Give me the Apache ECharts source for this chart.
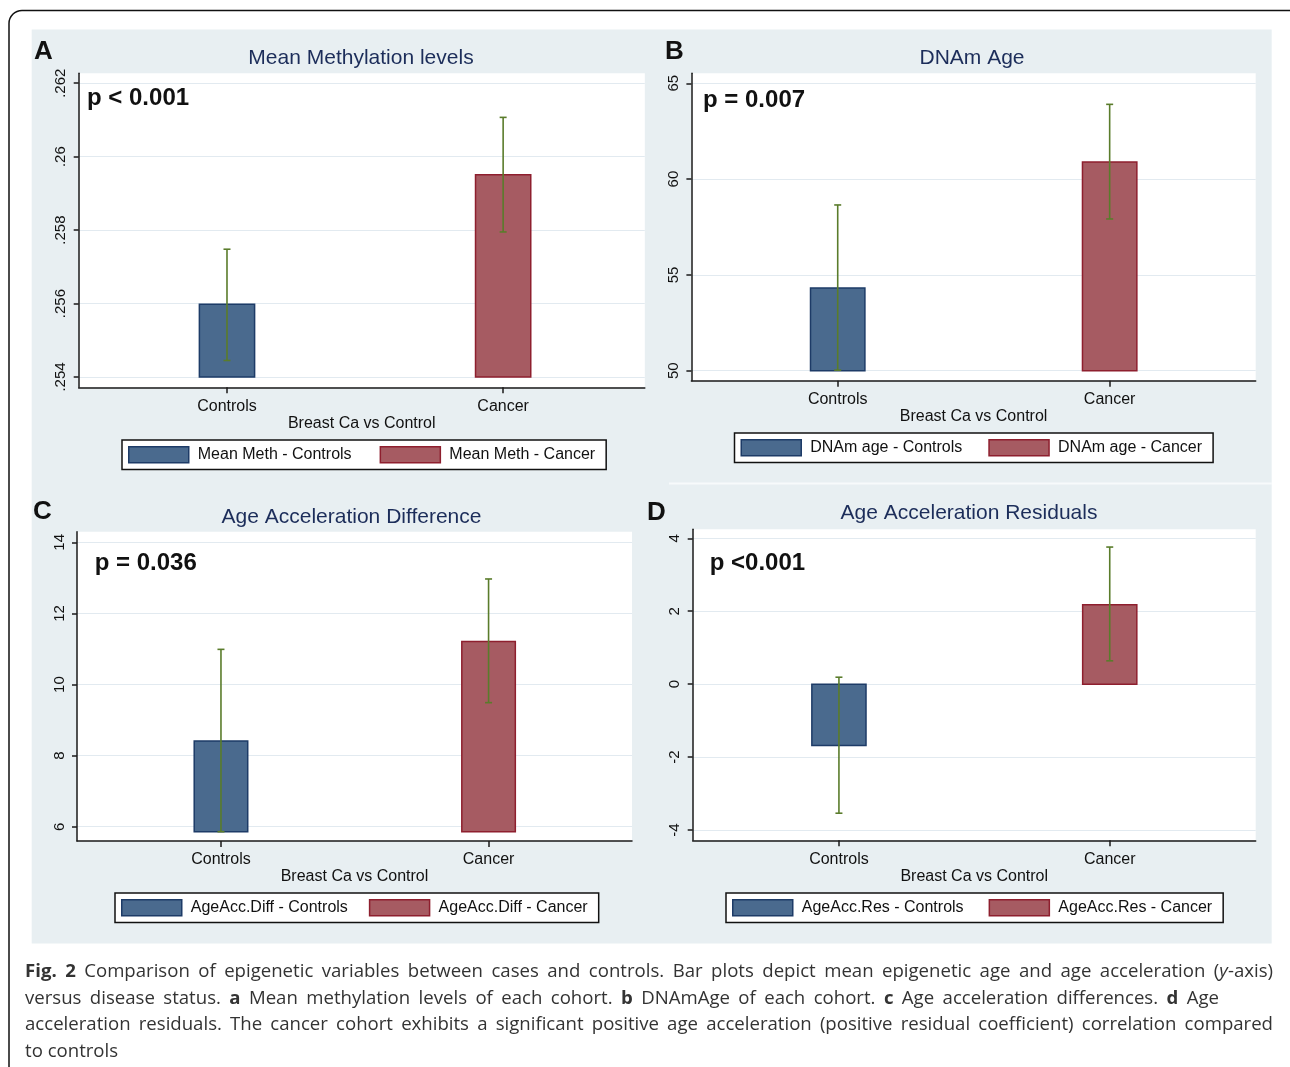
<!DOCTYPE html>
<html>
<head>
<meta charset="utf-8">
<script src="https://cdn.jsdelivr.net/npm/echarts@6/dist/echarts.min.js"></script>
<style>
html, body { margin: 0; padding: 0; background: #fff; }
#chart { position: absolute; left: 0; top: 0; width: 1290px; height: 1067px; }
#caption { position: absolute; left: 25px; top: 957px; width: 1248px; font-family: 'Open Sans', 'Noto Sans', sans-serif; font-size: 18.6px; color: #333; line-height: 26.7px; }
#caption .ln { white-space: nowrap; text-align: justify; text-align-last: justify; }
#caption .l2 { width: 1194px; }
#caption .l4 { text-align: left; text-align-last: left; }
</style>
</head>
<body>
<div id="chart"></div>
<div id="caption">
  <div class="ln"><b>Fig. 2</b> Comparison of epigenetic variables between cases and controls. Bar plots depict mean epigenetic age and age acceleration (<i>y</i>-axis)</div>
  <div class="ln l2">versus disease status. <b>a</b> Mean methylation levels of each cohort. <b>b</b> DNAmAge of each cohort. <b>c</b> Age acceleration differences. <b>d</b> Age</div>
  <div class="ln">acceleration residuals. The cancer cohort exhibits a significant positive age acceleration (positive residual coefficient) correlation compared</div>
  <div class="ln l4">to controls</div>
</div>
<script>
// ---------------- data ----------------
const categories = ['Controls', 'Cancer'];
const xAxisName = 'Breast Ca vs Control';

// A: Mean methylation levels
const methTitle = 'Mean Methylation levels';
const methP = 'p < 0.001';
const methNames = ['Mean Meth - Controls', 'Mean Meth - Cancer'];
const methTicks = [0.254, 0.256, 0.258, 0.26, 0.262];
const methMean = [0.25598, 0.25951];
const methLow = [0.25445, 0.25795];
const methHigh = [0.25748, 0.26107];
const methBase = 0.254;

// B: DNAm Age
const ageTitle = 'DNAm Age';
const ageP = 'p = 0.007';
const ageNames = ['DNAm age - Controls', 'DNAm age - Cancer'];
const ageTicks = [50, 55, 60, 65];
const ageMean = [54.32, 60.89];
const ageLow = [50.03, 57.92];
const ageHigh = [58.65, 63.90];
const ageBase = 50;

// C: Age acceleration difference
const diffTitle = 'Age Acceleration Difference';
const diffP = 'p = 0.036';
const diffNames = ['AgeAcc.Diff - Controls', 'AgeAcc.Diff - Cancer'];
const diffTicks = [6, 8, 10, 12, 14];
const diffMean = [8.41, 11.21];
const diffLow = [5.86, 9.49];
const diffHigh = [10.99, 12.97];
const diffBase = 5.86;

// D: Age acceleration residuals
const resTitle = 'Age Acceleration Residuals';
const resP = 'p <0.001';
const resNames = ['AgeAcc.Res - Controls', 'AgeAcc.Res - Cancer'];
const resTicks = [-4, -2, 0, 2, 4];
const resMean = [-1.685, 2.175];
const resLow = [-3.54, 0.64];
const resHigh = [0.19, 3.76];
const resBase = 0;

// ---------------- styling / layout ----------------
const FONT = "'Liberation Sans', Arial, sans-serif";
const BLUE = '#4a6a8e', BLUE_B = '#1d3b67';
const RED = '#a65b62', RED_B = '#8e1f2e';
const GREEN = '#5a7c2b';
const AXIS = '#1a1a1a';
const TITLE_C = '#1c2d5a';
const BAR_W = 0.2;

const panels = [
  { letter: 'A', title: methTitle, p: methP, names: methNames, ticks: methTicks, mean: methMean, low: methLow, high: methHigh, base: methBase,
    grid: { left: 78.7, top: 73.3, width: 566.1, height: 314 }, xr: [-0.537, 1.513], yr: [0.25372, 0.26227],
    fmt: v => String(+v.toFixed(3)).replace(/^0\./, '.'),
    letterPos: [34, 52], titlePos: [361, 58], pPos: [87, 98], legendPos: [122, 440], gap: 28 },
  { letter: 'B', title: ageTitle, p: ageP, names: ageNames, ticks: ageTicks, mean: ageMean, low: ageLow, high: ageHigh, base: ageBase,
    grid: { left: 691.4, top: 73.3, width: 564.3, height: 307.4 }, xr: [-0.538, 1.537], yr: [49.48, 65.52],
    fmt: v => String(v),
    letterPos: [665, 52], titlePos: [972, 58], pPos: [703, 100], legendPos: [734.5, 433], gap: 26 },
  { letter: 'C', title: diffTitle, p: diffP, names: diffNames, ticks: diffTicks, mean: diffMean, low: diffLow, high: diffHigh, base: diffBase,
    grid: { left: 77, top: 531.7, width: 555, height: 309.3 }, xr: [-0.538, 1.536], yr: [5.598, 14.30],
    fmt: v => String(v),
    letterPos: [33, 512], titlePos: [351.5, 517], pPos: [94.7, 563], legendPos: [115, 893], gap: 21 },
  { letter: 'D', title: resTitle, p: resP, names: resNames, ticks: resTicks, mean: resMean, low: resLow, high: resHigh, base: resBase,
    grid: { left: 692.7, top: 529.3, width: 563, height: 311 }, xr: [-0.54, 1.539], yr: [-4.283, 4.247],
    fmt: v => String(v),
    letterPos: [647, 513], titlePos: [969, 513], pPos: [709.7, 563], legendPos: [726, 893], gap: 25 }
];

const axisLineStyle = { color: AXIS, width: 1.5 };

function barRender(fill, stroke) {
  return function (params, api) {
    const x = api.value(0);
    const a = api.coord([x, api.value(1)]);
    const b = api.coord([x, api.value(2)]);
    const w = api.size([BAR_W, 0])[0];
    return {
      type: 'rect',
      shape: { x: a[0] - w / 2, y: Math.min(a[1], b[1]), width: w, height: Math.abs(a[1] - b[1]) },
      style: { fill: fill, stroke: stroke, lineWidth: 1.5 }
    };
  };
}

function errRender(params, api) {
  const x = api.value(0);
  const lo = api.coord([x, api.value(1)]);
  const hi = api.coord([x, api.value(2)]);
  const cap = 3.5;
  const st = { stroke: GREEN, lineWidth: 1.6 };
  return {
    type: 'group',
    children: [
      { type: 'line', shape: { x1: lo[0], y1: lo[1], x2: hi[0], y2: hi[1] }, style: st },
      { type: 'line', shape: { x1: lo[0] - cap, y1: lo[1], x2: lo[0] + cap, y2: lo[1] }, style: st },
      { type: 'line', shape: { x1: hi[0] - cap, y1: hi[1], x2: hi[0] + cap, y2: hi[1] }, style: st }
    ]
  };
}

const grids = [], xAxes = [], yAxes = [], series = [], legends = [], texts = [];

panels.forEach((p, k) => {
  grids.push(Object.assign({ show: true, backgroundColor: '#ffffff', borderWidth: 0 }, p.grid));
  xAxes.push({
    type: 'value', gridIndex: k, min: p.xr[0], max: p.xr[1],
    axisLine: { show: true, onZero: false, lineStyle: axisLineStyle },
    axisTick: { show: true, customValues: [0, 1], length: 6, lineStyle: axisLineStyle },
    axisLabel: { show: true, customValues: [0, 1], formatter: v => categories[Math.round(v)], fontFamily: FONT, fontSize: 16, color: '#111', margin: 11 },
    splitLine: { show: false },
    name: xAxisName, nameLocation: 'middle', nameGap: 28,
    nameTextStyle: { fontFamily: FONT, fontSize: 16, color: '#111' }
  });
  yAxes.push({
    type: 'value', gridIndex: k, min: p.yr[0], max: p.yr[1],
    axisLine: { show: true, onZero: false, lineStyle: axisLineStyle },
    axisTick: { show: true, customValues: p.ticks, length: 5, lineStyle: axisLineStyle },
    axisLabel: { show: true, customValues: p.ticks, rotate: 90, formatter: p.fmt, fontFamily: FONT, fontSize: 15, color: '#111', margin: 10 },
    splitLine: { show: true, lineStyle: { color: '#e2eaf0', width: 1.2 } }
  });
  const colors = [[BLUE, BLUE_B], [RED, RED_B]];
  categories.forEach((c, i) => {
    series.push({
      type: 'custom', name: p.names[i], xAxisIndex: k, yAxisIndex: k,
      itemStyle: { color: colors[i][0], borderColor: colors[i][1], borderWidth: 1.5 },
      encode: { x: 0, y: [1, 2] },
      data: [[i, p.base, p.mean[i]]],
      renderItem: barRender(colors[i][0], colors[i][1]),
      z: 2
    });
  });
  series.push({
    type: 'custom', name: p.letter + ' 95% CI', xAxisIndex: k, yAxisIndex: k,
    encode: { x: 0, y: [1, 2] },
    data: categories.map((c, i) => [i, p.low[i], p.high[i]]),
    renderItem: errRender,
    z: 3
  });
  legends.push({
    show: true, orient: 'horizontal', left: p.legendPos[0], top: p.legendPos[1],
    backgroundColor: '#ffffff', borderColor: '#111', borderWidth: 1.5,
    padding: [6, 11, 6, 6], itemGap: p.gap, itemWidth: 60, itemHeight: 16,
    icon: 'rect', selectedMode: false,
    textStyle: { fontFamily: FONT, fontSize: 16, color: '#111', padding: [0, 0, 0, 4] },
    data: p.names.map((n, i) => ({ name: n, icon: 'rect', itemStyle: { color: colors[i][0], borderColor: colors[i][1], borderWidth: 1.5 } }))
  });
  texts.push({ type: 'text', x: p.letterPos[0], y: p.letterPos[1], z: 10,
    style: { text: p.letter, font: "bold 26px " + FONT, fill: '#111', textAlign: 'left', textVerticalAlign: 'middle' } });
  texts.push({ type: 'text', x: p.titlePos[0], y: p.titlePos[1], z: 10,
    style: { text: p.title, font: "21px " + FONT, fill: TITLE_C, textAlign: 'center', textVerticalAlign: 'middle' } });
  texts.push({ type: 'text', x: p.pPos[0], y: p.pPos[1], z: 10,
    style: { text: p.p, font: "bold 24px " + FONT, fill: '#111', textAlign: 'left', textVerticalAlign: 'middle' } });
});

const chart = echarts.init(document.getElementById('chart'), null, { renderer: 'canvas' });
chart.setOption({
  animation: false,
  backgroundColor: '#ffffff',
  graphic: [
    { type: 'rect', z: -10, silent: true, shape: { x: 9, y: 10.5, width: 1310, height: 1100, r: 13 }, style: { fill: '#ffffff', stroke: '#111', lineWidth: 1.5 } },
    { type: 'rect', z: -9, silent: true, shape: { x: 31.7, y: 29.5, width: 1240, height: 914 }, style: { fill: '#e8eff2' } },
    { type: 'line', z: -8, silent: true, shape: { x1: 669, y1: 483.5, x2: 1272, y2: 483.5 }, style: { stroke: '#f7fafb', lineWidth: 2 } }
  ].concat(texts),
  grid: grids,
  xAxis: xAxes,
  yAxis: yAxes,
  legend: legends,
  series: series
});
</script>
</body>
</html>
